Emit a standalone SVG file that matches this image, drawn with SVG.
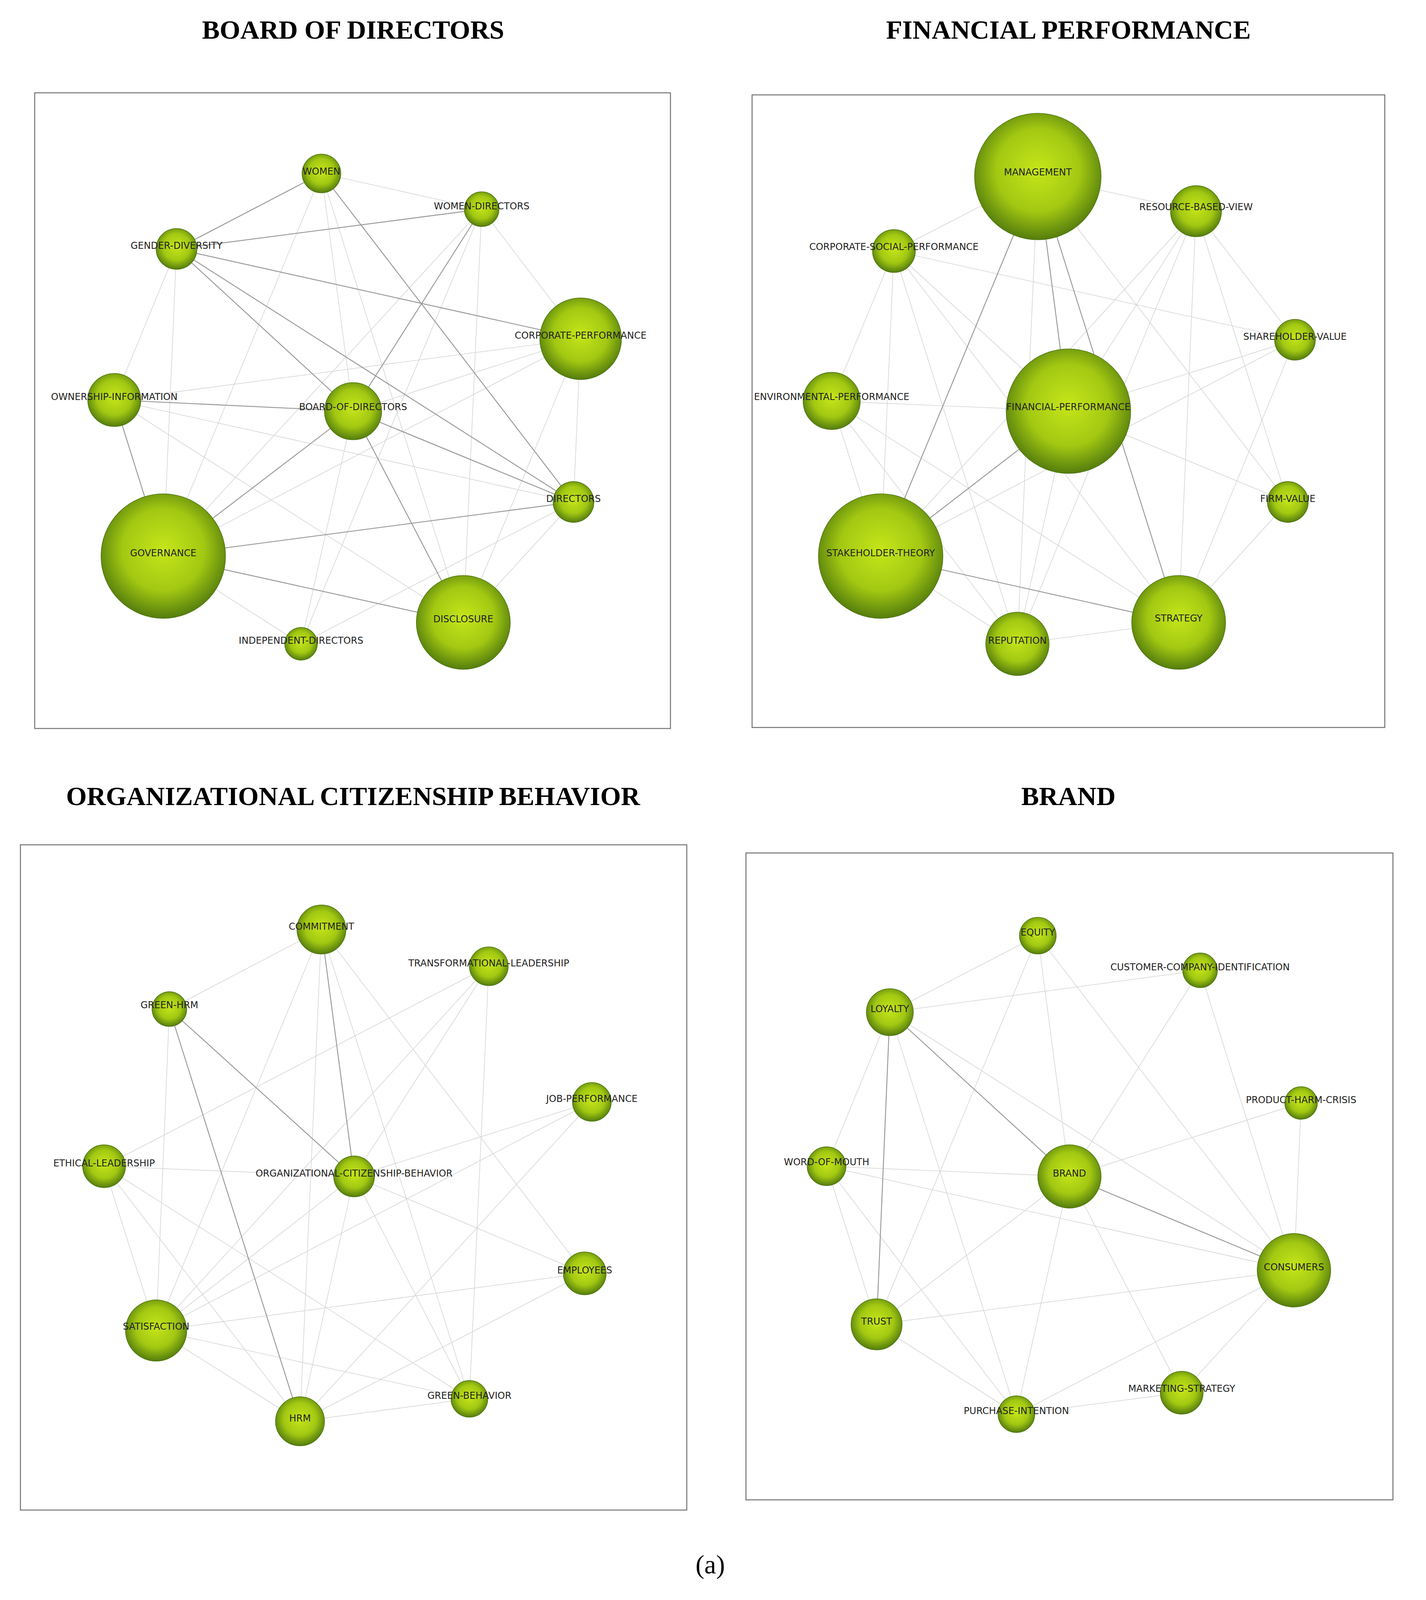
<svg xmlns="http://www.w3.org/2000/svg" width="3650" height="4113" viewBox="0 0 3650 4113">
<style>
.t{font-family:"Liberation Serif",serif;font-weight:bold;font-size:26px;fill:#000;text-anchor:middle}
.n{font-family:"DejaVu Sans",sans-serif;font-size:9.2px;fill:#222;text-anchor:middle;dominant-baseline:central}
.box{fill:#fff;stroke:#777;stroke-width:1}
.d line{stroke:#999;stroke-width:0.9}
.l line{stroke:#d4d4d4;stroke-width:0.6}
circle{fill:url(#g);stroke:#4d7510;stroke-width:0.6}
</style>
<defs>
<radialGradient id="g" cx="50%" cy="45%" r="55%">
<stop offset="0" stop-color="#c6e61a"/><stop offset="0.6" stop-color="#a2c812"/><stop offset="1" stop-color="#557d0d"/>
</radialGradient>
</defs>
<rect width="3650" height="4113" fill="#fff"/>
<g transform="scale(2.612)">
<text class="t" x="346" y="38">BOARD OF DIRECTORS</text>
<text class="t" x="1047" y="38">FINANCIAL PERFORMANCE</text>
<text class="t" x="346" y="789">ORGANIZATIONAL CITIZENSHIP BEHAVIOR</text>
<text class="t" x="1047" y="789">BRAND</text>
<text class="t" x="696" y="1542" style="font-weight:normal">(a)</text>
<rect class="box" x="34" y="91" width="623" height="623"/>
<rect class="box" x="737" y="93" width="620" height="620"/>
<rect class="box" x="20" y="828" width="653" height="652"/>
<rect class="box" x="731" y="836" width="634" height="634"/>
<g id="connectors">
<g class="l">
<line x1="315" y1="170" x2="472" y2="205"/><line x1="315" y1="170" x2="346" y2="403"/><line x1="315" y1="170" x2="160" y2="545"/><line x1="315" y1="170" x2="454" y2="610"/>
<line x1="472" y1="205" x2="569" y2="332"/><line x1="472" y1="205" x2="160" y2="545"/><line x1="472" y1="205" x2="295" y2="631"/><line x1="472" y1="205" x2="454" y2="610"/>
<line x1="173" y1="244" x2="112" y2="392"/><line x1="173" y1="244" x2="160" y2="545"/><line x1="569" y1="332" x2="346" y2="403"/><line x1="569" y1="332" x2="112" y2="392"/>
<line x1="569" y1="332" x2="562" y2="492"/><line x1="569" y1="332" x2="160" y2="545"/><line x1="569" y1="332" x2="454" y2="610"/><line x1="112" y1="392" x2="562" y2="492"/>
<line x1="112" y1="392" x2="454" y2="610"/><line x1="346" y1="403" x2="295" y2="631"/><line x1="562" y1="492" x2="454" y2="610"/><line x1="562" y1="492" x2="295" y2="631"/><line x1="160" y1="545" x2="295" y2="631"/>
<line x1="1017" y1="173" x2="876" y2="246"/><line x1="1017" y1="173" x2="1172" y2="207"/><line x1="876" y1="246" x2="815" y2="393"/><line x1="876" y1="246" x2="1047" y2="403"/><line x1="876" y1="246" x2="863" y2="545"/><line x1="876" y1="246" x2="997" y2="631"/><line x1="876" y1="246" x2="1155" y2="610"/>
<line x1="1172" y1="207" x2="1047" y2="403"/><line x1="1172" y1="207" x2="863" y2="545"/><line x1="1172" y1="207" x2="1155" y2="610"/><line x1="1172" y1="207" x2="1262" y2="492"/><line x1="1172" y1="207" x2="1269" y2="333"/><line x1="1172" y1="207" x2="997" y2="631"/>
<line x1="1269" y1="333" x2="1047" y2="403"/><line x1="1269" y1="333" x2="863" y2="545"/><line x1="1269" y1="333" x2="1155" y2="610"/><line x1="1269" y1="333" x2="876" y2="246"/>
<line x1="815" y1="393" x2="1047" y2="403"/><line x1="815" y1="393" x2="863" y2="545"/><line x1="815" y1="393" x2="997" y2="631"/><line x1="815" y1="393" x2="1155" y2="610"/>
<line x1="1047" y1="403" x2="997" y2="631"/><line x1="1047" y1="403" x2="1262" y2="492"/><line x1="863" y1="545" x2="997" y2="631"/><line x1="997" y1="631" x2="1155" y2="610"/><line x1="1262" y1="492" x2="1155" y2="610"/><line x1="1017" y1="173" x2="1262" y2="492"/><line x1="1017" y1="173" x2="997" y2="631"/>
<line x1="315" y1="911" x2="166" y2="989"/><line x1="315" y1="911" x2="153" y2="1304"/><line x1="315" y1="911" x2="294" y2="1393"/><line x1="315" y1="911" x2="460" y2="1371"/><line x1="315" y1="911" x2="573" y2="1248"/>
<line x1="479" y1="947" x2="102" y2="1143"/><line x1="479" y1="947" x2="347" y2="1153"/><line x1="479" y1="947" x2="153" y2="1304"/><line x1="479" y1="947" x2="460" y2="1371"/><line x1="166" y1="989" x2="153" y2="1304"/>
<line x1="102" y1="1143" x2="347" y2="1153"/><line x1="102" y1="1143" x2="153" y2="1304"/><line x1="102" y1="1143" x2="294" y2="1393"/><line x1="102" y1="1143" x2="460" y2="1371"/>
<line x1="347" y1="1153" x2="580" y2="1080"/><line x1="347" y1="1153" x2="573" y2="1248"/><line x1="347" y1="1153" x2="153" y2="1304"/><line x1="347" y1="1153" x2="294" y2="1393"/><line x1="347" y1="1153" x2="460" y2="1371"/>
<line x1="580" y1="1080" x2="153" y2="1304"/><line x1="580" y1="1080" x2="294" y2="1393"/><line x1="573" y1="1248" x2="153" y2="1304"/><line x1="573" y1="1248" x2="294" y2="1393"/><line x1="153" y1="1304" x2="294" y2="1393"/><line x1="153" y1="1304" x2="460" y2="1371"/><line x1="294" y1="1393" x2="460" y2="1371"/>
<line x1="1017" y1="917" x2="872" y2="992"/><line x1="1017" y1="917" x2="1048" y2="1153"/><line x1="1017" y1="917" x2="1268" y2="1245"/><line x1="1017" y1="917" x2="859" y2="1298"/>
<line x1="1176" y1="951" x2="872" y2="992"/><line x1="1176" y1="951" x2="1048" y2="1153"/><line x1="1176" y1="951" x2="1268" y2="1245"/><line x1="1275" y1="1081" x2="1048" y2="1153"/><line x1="1275" y1="1081" x2="1268" y2="1245"/>
<line x1="872" y1="992" x2="810" y2="1143"/><line x1="872" y1="992" x2="1268" y2="1245"/><line x1="872" y1="992" x2="996" y2="1386"/><line x1="810" y1="1143" x2="1048" y2="1153"/><line x1="810" y1="1143" x2="859" y2="1298"/><line x1="810" y1="1143" x2="996" y2="1386"/><line x1="810" y1="1143" x2="1268" y2="1245"/>
<line x1="1048" y1="1153" x2="859" y2="1298"/><line x1="1048" y1="1153" x2="996" y2="1386"/><line x1="1048" y1="1153" x2="1158" y2="1365"/><line x1="1268" y1="1245" x2="859" y2="1298"/><line x1="1268" y1="1245" x2="1158" y2="1365"/><line x1="1268" y1="1245" x2="996" y2="1386"/><line x1="859" y1="1298" x2="996" y2="1386"/><line x1="1158" y1="1365" x2="996" y2="1386"/>
</g>
<g class="d">
<line x1="173" y1="244" x2="346" y2="403"/><line x1="173" y1="244" x2="562" y2="492"/><line x1="315" y1="170" x2="562" y2="492"/><line x1="346" y1="403" x2="160" y2="545"/><line x1="346" y1="403" x2="562" y2="492"/><line x1="472" y1="205" x2="346" y2="403"/><line x1="160" y1="545" x2="454" y2="610"/><line x1="160" y1="545" x2="562" y2="492"/><line x1="112" y1="392" x2="346" y2="403"/><line x1="112" y1="392" x2="160" y2="545"/><line x1="315" y1="170" x2="173" y2="244"/><line x1="173" y1="244" x2="472" y2="205"/><line x1="173" y1="244" x2="569" y2="332"/><line x1="346" y1="403" x2="454" y2="610"/>
<line x1="1017" y1="173" x2="1047" y2="403"/><line x1="1017" y1="173" x2="863" y2="545"/><line x1="1047" y1="403" x2="863" y2="545"/><line x1="863" y1="545" x2="1155" y2="610"/><line x1="1017" y1="173" x2="1155" y2="610"/>
<line x1="166" y1="989" x2="347" y2="1153"/><line x1="166" y1="989" x2="294" y2="1393"/><line x1="315" y1="911" x2="347" y2="1153"/>
<line x1="872" y1="992" x2="859" y2="1298"/><line x1="1048" y1="1153" x2="1268" y2="1245"/><line x1="872" y1="992" x2="1048" y2="1153"/>
</g>
</g>
<g id="n-women"><circle cx="315" cy="170" r="19"/><text class="n" x="315" y="168">WOMEN</text></g>
<g id="n-women-directors"><circle cx="472" cy="205" r="17"/><text class="n" x="472" y="202">WOMEN-DIRECTORS</text></g>
<g id="n-gender-diversity"><circle cx="173" cy="244" r="20"/><text class="n" x="173" y="241">GENDER-DIVERSITY</text></g>
<g id="n-corporate-performance"><circle cx="569" cy="332" r="40"/><text class="n" x="569" y="329">CORPORATE-PERFORMANCE</text></g>
<g id="n-ownership-information"><circle cx="112" cy="392" r="26"/><text class="n" x="112" y="389">OWNERSHIP-INFORMATION</text></g>
<g id="n-board-of-directors"><circle cx="346" cy="403" r="28"/><text class="n" x="346" y="399">BOARD-OF-DIRECTORS</text></g>
<g id="n-directors"><circle cx="562" cy="492" r="20"/><text class="n" x="562" y="489">DIRECTORS</text></g>
<g id="n-governance"><circle cx="160" cy="545" r="61"/><text class="n" x="160" y="542">GOVERNANCE</text></g>
<g id="n-disclosure"><circle cx="454" cy="610" r="46"/><text class="n" x="454" y="607">DISCLOSURE</text></g>
<g id="n-independent-directors"><circle cx="295" cy="631" r="16"/><text class="n" x="295" y="628">INDEPENDENT-DIRECTORS</text></g>
<g id="n-management"><circle cx="1017" cy="173" r="62"/><text class="n" x="1017" y="169">MANAGEMENT</text></g>
<g id="n-resource-based-view"><circle cx="1172" cy="207" r="25"/><text class="n" x="1172" y="203">RESOURCE-BASED-VIEW</text></g>
<g id="n-csp"><circle cx="876" cy="246" r="21"/><text class="n" x="876" y="242">CORPORATE-SOCIAL-PERFORMANCE</text></g>
<g id="n-shareholder-value"><circle cx="1269" cy="333" r="20"/><text class="n" x="1269" y="330">SHAREHOLDER-VALUE</text></g>
<g id="n-environmental-performance"><circle cx="815" cy="393" r="28"/><text class="n" x="815" y="389">ENVIRONMENTAL-PERFORMANCE</text></g>
<g id="n-financial-performance"><circle cx="1047" cy="403" r="61"/><text class="n" x="1047" y="399">FINANCIAL-PERFORMANCE</text></g>
<g id="n-firm-value"><circle cx="1262" cy="492" r="20"/><text class="n" x="1262" y="489">FIRM-VALUE</text></g>
<g id="n-stakeholder-theory"><circle cx="863" cy="545" r="61"/><text class="n" x="863" y="542">STAKEHOLDER-THEORY</text></g>
<g id="n-strategy"><circle cx="1155" cy="610" r="46"/><text class="n" x="1155" y="606">STRATEGY</text></g>
<g id="n-reputation"><circle cx="997" cy="631" r="31"/><text class="n" x="997" y="628">REPUTATION</text></g>
<g id="n-commitment"><circle cx="315" cy="911" r="24"/><text class="n" x="315" y="908">COMMITMENT</text></g>
<g id="n-transformational-leadership"><circle cx="479" cy="947" r="19"/><text class="n" x="479" y="944">TRANSFORMATIONAL-LEADERSHIP</text></g>
<g id="n-green-hrm"><circle cx="166" cy="989" r="17"/><text class="n" x="166" y="985">GREEN-HRM</text></g>
<g id="n-job-performance"><circle cx="580" cy="1080" r="19"/><text class="n" x="580" y="1077">JOB-PERFORMANCE</text></g>
<g id="n-ethical-leadership"><circle cx="102" cy="1143" r="21"/><text class="n" x="102" y="1140">ETHICAL-LEADERSHIP</text></g>
<g id="n-ocb"><circle cx="347" cy="1153" r="20"/><text class="n" x="347" y="1150">ORGANIZATIONAL-CITIZENSHIP-BEHAVIOR</text></g>
<g id="n-employees"><circle cx="573" cy="1248" r="21"/><text class="n" x="573" y="1245">EMPLOYEES</text></g>
<g id="n-satisfaction"><circle cx="153" cy="1304" r="30"/><text class="n" x="153" y="1300">SATISFACTION</text></g>
<g id="n-green-behavior"><circle cx="460" cy="1371" r="18"/><text class="n" x="460" y="1368">GREEN-BEHAVIOR</text></g>
<g id="n-hrm"><circle cx="294" cy="1393" r="24"/><text class="n" x="294" y="1390">HRM</text></g>
<g id="n-equity"><circle cx="1017" cy="917" r="18"/><text class="n" x="1017" y="914">EQUITY</text></g>
<g id="n-cci"><circle cx="1176" cy="951" r="17"/><text class="n" x="1176" y="948">CUSTOMER-COMPANY-IDENTIFICATION</text></g>
<g id="n-loyalty"><circle cx="872" cy="992" r="23"/><text class="n" x="872" y="989">LOYALTY</text></g>
<g id="n-product-harm-crisis"><circle cx="1275" cy="1081" r="16"/><text class="n" x="1275" y="1078">PRODUCT-HARM-CRISIS</text></g>
<g id="n-word-of-mouth"><circle cx="810" cy="1143" r="19"/><text class="n" x="810" y="1139">WORD-OF-MOUTH</text></g>
<g id="n-brand"><circle cx="1048" cy="1153" r="31"/><text class="n" x="1048" y="1150">BRAND</text></g>
<g id="n-consumers"><circle cx="1268" cy="1245" r="36"/><text class="n" x="1268" y="1242">CONSUMERS</text></g>
<g id="n-trust"><circle cx="859" cy="1298" r="25"/><text class="n" x="859" y="1295">TRUST</text></g>
<g id="n-marketing-strategy"><circle cx="1158" cy="1365" r="21"/><text class="n" x="1158" y="1361">MARKETING-STRATEGY</text></g>
<g id="n-purchase-intention"><circle cx="996" cy="1386" r="18"/><text class="n" x="996" y="1383">PURCHASE-INTENTION</text></g>
</g>
</svg>
